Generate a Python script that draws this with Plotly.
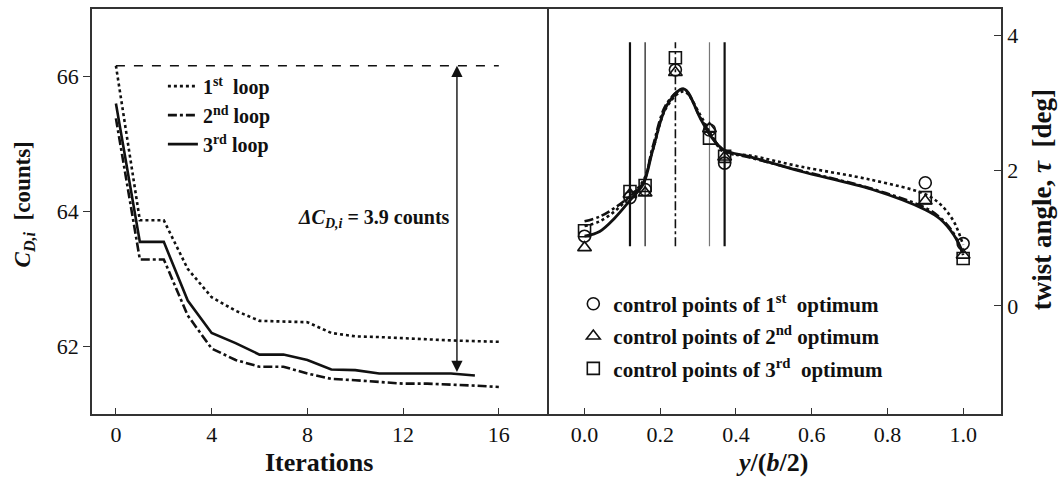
import plotly.graph_objects as go

# ---------------- data: left panel (induced drag history) ----------------
iterations = list(range(17))
loop1 = [66.16, 63.87, 63.87, 63.15, 62.73, 62.53, 62.38, 62.37, 62.36, 62.20,
         62.15, 62.14, 62.12, 62.10, 62.09, 62.08, 62.07]
loop2 = [65.38, 63.29, 63.29, 62.46, 61.97, 61.80, 61.70, 61.70, 61.60, 61.52,
         61.50, 61.47, 61.45, 61.45, 61.44, 61.42, 61.40]
loop3 = [65.60, 63.55, 63.55, 62.68, 62.20, 62.05, 61.88, 61.88, 61.80, 61.66,
         61.65, 61.60, 61.60, 61.60, 61.60, 61.57]
loop_names = ["1<sup>st</sup>&nbsp; loop", "2<sup>nd</sup> loop", "3<sup>rd</sup> loop"]
arrow_iter = 14.25
delta_label = "3.9"

# ---------------- data: right panel (twist distribution) ----------------
span = [0.0, 0.04, 0.08, 0.12, 0.155, 0.18, 0.218, 0.262, 0.306, 0.332, 0.367,
        0.44, 0.57, 0.76, 0.90, 0.94, 0.975, 1.0]
twist1 = [1.18, 1.25, 1.40, 1.62, 1.85, 2.30, 2.95, 3.17, 2.82, 2.55, 2.28,
          2.22, 2.06, 1.86, 1.65, 1.50, 1.25, 0.90]
twist2 = [1.25, 1.32, 1.45, 1.62, 1.82, 2.35, 3.00, 3.20, 2.78, 2.55, 2.30,
          2.19, 2.00, 1.73, 1.45, 1.30, 1.07, 0.75]
twist3 = [1.03, 1.10, 1.30, 1.56, 1.80, 2.30, 2.97, 3.21, 2.77, 2.52, 2.31,
          2.20, 1.99, 1.72, 1.42, 1.28, 1.05, 0.78]

ctrl_x = [0.0, 0.12, 0.16, 0.24, 0.33, 0.37, 0.90, 1.0]
ctrl1 = [1.03, 1.60, 1.72, 3.49, 2.60, 2.11, 1.82, 0.92]
ctrl2 = [0.86, 1.65, 1.67, 3.45, 2.62, 2.20, 1.55, 0.75]
ctrl3 = [1.11, 1.69, 1.78, 3.67, 2.48, 2.21, 1.60, 0.70]
ctrl_names = ["control points of 1<sup>st</sup>&nbsp; optimum",
              "control points of 2<sup>nd</sup> optimum",
              "control points of 3<sup>rd</sup>&nbsp; optimum"]
guide_x = [0.12, 0.16, 0.24, 0.33, 0.37]
guide_y = [0.88, 3.90]

FONT = "Liberation Serif"
INK = "#111"
AX = "#333"

fig = go.Figure()

# left panel curves
styles = [dict(dash="dot", width=2.6), dict(dash="dashdot", width=2.6), dict(dash="solid", width=2.6)]
for name, ys, st in zip(loop_names, [loop1, loop2, loop3], styles):
    fig.add_trace(go.Scatter(x=iterations[:len(ys)], y=ys, mode="lines", name=name,
                             line=dict(color=INK, **st), xaxis="x", yaxis="y",
                             legend="legend"))

# reference dashed line at initial value
fig.add_trace(go.Scatter(x=[iterations[0], iterations[-1]], y=[loop1[0], loop1[0]],
                         mode="lines", line=dict(color=INK, dash="dash", width=1.4),
                         showlegend=False, xaxis="x", yaxis="y"))

# right panel guide lines
guide_styles = [dict(color=INK, width=2.2, dash="solid"), dict(color=INK, width=1.2, dash="solid"),
                dict(color=INK, width=1.6, dash="dashdot"), dict(color="#777", width=1.2, dash="solid"),
                dict(color=INK, width=2.2, dash="solid")]
for gx, gs in zip(guide_x, guide_styles):
    fig.add_trace(go.Scatter(x=[gx, gx], y=guide_y, mode="lines", line=gs,
                             showlegend=False, xaxis="x2", yaxis="y2"))

# right panel twist curves
rstyles = [dict(dash="dot", width=2.6), dict(dash="dashdot", width=2.6), dict(dash="solid", width=2.8)]
for ys, st in zip([twist1, twist2, twist3], rstyles):
    fig.add_trace(go.Scatter(x=span, y=ys, mode="lines", line=dict(color=INK, shape="spline",
                             smoothing=1.0, **st), showlegend=False, xaxis="x2", yaxis="y2"))

# control points
symbols = ["circle-open", "triangle-up-open", "square-open"]
for i, (name, ys, sym) in enumerate(zip(ctrl_names, [ctrl1, ctrl2, ctrl3], symbols)):
    fig.add_trace(go.Scatter(x=ctrl_x, y=ys, mode="markers", name=name,
                             marker=dict(symbol=sym, size=12, color=INK, line=dict(width=1.6, color=INK)),
                             xaxis="x2", yaxis="y2", legend="legend2", legendgroup=f"g{i}"))

axis_common = dict(showline=True, linecolor=AX, linewidth=1.5, showgrid=False,
                   zeroline=False, tickcolor=AX, tickwidth=1.3,
                   tickfont=dict(family=FONT, size=22, color=INK))

fig.update_layout(
    width=1058, height=480,
    margin=dict(l=92, r=57, t=7, b=66),
    paper_bgcolor="white", plot_bgcolor="white",
    font=dict(family=FONT, color=INK),
    xaxis=dict(domain=[0, 0.5002], range=[-1, 18], tickvals=[0, 4, 8, 12, 16], mirror=True,
               ticks="inside", ticklen=6, anchor="y", **axis_common),
    yaxis=dict(range=[61.0, 67.0], tickvals=[62, 64, 66], ticks="outside", ticklen=7, mirror=True,
               anchor="x", **axis_common),
    xaxis2=dict(domain=[0.5002, 1], range=[-0.1, 1.1], tickvals=[0, 0.2, 0.4, 0.6, 0.8, 1.0],
                tickformat=".1f", ticks="inside", ticklen=6, anchor="y2", mirror=True, **axis_common),
    yaxis2=dict(range=[-1.6, 4.39], tickvals=[0, 2, 4], ticks="inside", ticklen=7, mirror=False,
                side="right", anchor="x2", **axis_common),
    legend=dict(x=0.078, y=0.8576, xanchor="left", yanchor="top", bgcolor="rgba(0,0,0,0)",
                font=dict(family=FONT, size=20, color=INK, weight="bold"), tracegroupgap=0),
    legend2=dict(x=0.5295, y=0.322, xanchor="left", yanchor="top", bgcolor="rgba(0,0,0,0)",
                 font=dict(family=FONT, size=21, color=INK, weight="bold"), tracegroupgap=2),
    showlegend=True,
)

# delta arrow
fig.add_annotation(x=arrow_iter, y=loop1[0], ax=arrow_iter, ay=loop3[14], xref="x", yref="y",
                   axref="x", ayref="y", text="", showarrow=True, arrowhead=2, arrowside="end+start",
                   arrowsize=1.6, arrowwidth=1.4, arrowcolor=INK)
fig.add_annotation(x=arrow_iter - 0.2, y=63.9, xref="x", yref="y", xanchor="right", yanchor="middle",
                   text=f"<b><i>ΔC</i><sub><i>D,i</i></sub> = {delta_label} counts</b>", showarrow=False,
                   font=dict(family=FONT, size=20, color=INK))

# axis titles
fig.add_annotation(x=0.25, y=-0.12, xref="paper", yref="paper", text="<b>Iterations</b>",
                   showarrow=False, xanchor="center", yanchor="middle",
                   font=dict(family=FONT, size=26, color=INK))
fig.add_annotation(x=0.748, y=-0.12, xref="paper", yref="paper",
                   text="<b><i>y</i>/(<i>b</i>/2)</b>", xanchor="center",
                   showarrow=False, yanchor="middle", font=dict(family=FONT, size=26, color=INK))
fig.add_annotation(x=-0.075, y=0.517, xref="paper", yref="paper", textangle=-90,
                   text="<b><i>C</i><sub><i>D,i</i></sub>&nbsp; [counts]</b>",
                   xanchor="center", yanchor="middle",
                   showarrow=False, font=dict(family=FONT, size=23, color=INK))
fig.add_annotation(x=1.046, y=0.53, xref="paper", yref="paper", textangle=-90,
                   text="<b>twist angle, <i>τ</i>&nbsp; [deg]</b>",
                   xanchor="center", yanchor="middle",
                   showarrow=False, font=dict(family=FONT, size=27, color=INK))

fig.write_html("out.html", config={"displayModeBar": False},
               post_script="document.body.style.margin='0px';document.body.style.padding='0px';")
